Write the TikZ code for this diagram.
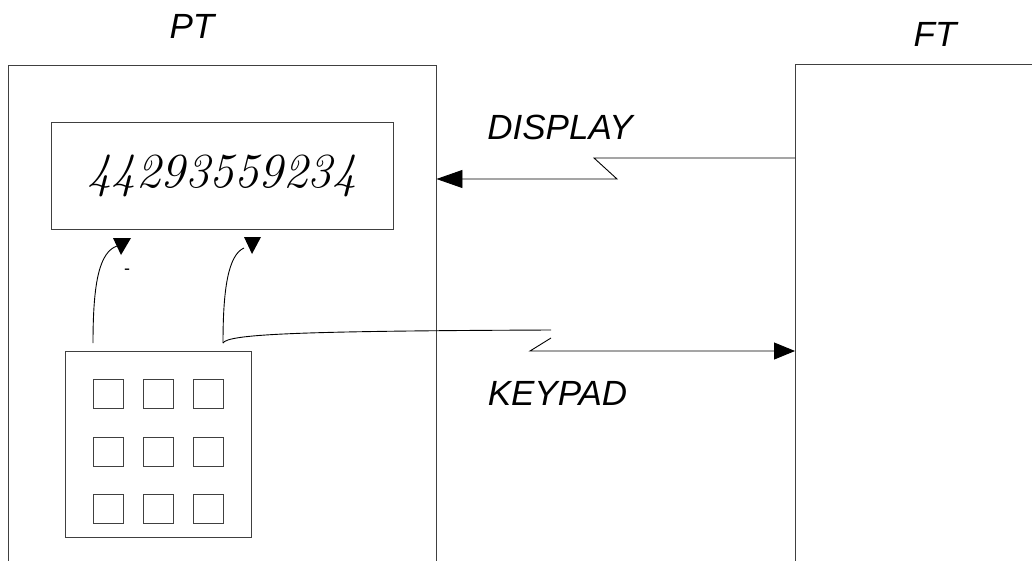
\documentclass[tikz,border=0pt]{standalone}
\usepackage{fontspec}
\setsansfont{Liberation Sans}
\usetikzlibrary{arrows.meta}
\begin{document}
\begin{tikzpicture}[x=1pt,y=-1pt,
  box/.style={draw=black!75, line width=0.9pt, inner sep=0pt},
  keybox/.style={box, minimum width=30pt, minimum height=29pt},
  conn/.style={draw=black, line width=0.9pt},
  tip/.style={fill=black},
  lbl/.style={font=\sffamily\itshape\fontsize{35}{35}\selectfont, inner sep=0pt}]
\useasboundingbox (0,0) rectangle (1032,560);
\clip (0,0) rectangle (1032,560);
% terminals
\node[box, minimum width=428pt, minimum height=540pt] (pt) at (222,335) {};
\node[box, minimum width=320pt, minimum height=540pt, anchor=north west] (ft) at (795,64) {};
\node[lbl] (ptl) at (192,26.5) {PT};
\node[lbl] (ftl) at (935,34.5) {FT};
% display
\node[box, minimum width=342pt, minimum height=107pt] (disp) at (222,175.5)
  {\fontsize{49}{49}\selectfont\itshape 44293559234};
% keypad
\node[box, minimum width=186pt, minimum height=186pt] (kp) at (158,444) {};
\foreach \c/\x in {1/108,2/158,3/208}{
  \foreach \r/\y in {1/393.5,2/451.5,3/508.5}{
    \node[keybox] (k\r\c) at (\x,\y) {};
  }
}
% labels
\node[lbl] (dl) at (560,127) {DISPLAY};
\node[lbl] (kl) at (557.5,393) {KEYPAD};
% display connector
\coordinate (d1) at (594,158);
\coordinate (d2) at (617,179);
\draw[conn, -{Triangle[length=26pt,width=18pt]}] (ft.west |- d1) -- (d1) -- (d2) -- (d2 -| pt.east);
% keypad connector
\coordinate (ka) at (93,343);
\coordinate (kb) at (223,343);
\coordinate (k1) at (551,330);
\coordinate (k2) at (530,351);
\draw[conn, -{Triangle[length=21pt,width=17pt]}] (kb) .. controls (228,334) and (300,331) .. (k1)
  (551,338) -- (k2) -- (k2 -| ft.west);
% local connectors to display
\coordinate (u1) at (117,246);
\coordinate (u2) at (244,248);
\draw[conn] (ka) .. controls (93,280) and (100,252) .. (u1);
\fill[tip] (113,238) -- (131,238) -- (121,255) -- cycle;
\draw[conn] (kb) .. controls (223,290) and (228,255) .. (u2);
\fill[tip] (244,237) -- (261,237) -- (252,254) -- cycle;
\node[font=\sffamily\fontsize{18}{18}\selectfont, inner sep=0pt] (dash) at (127,272) {-};
\end{tikzpicture}
\end{document}
